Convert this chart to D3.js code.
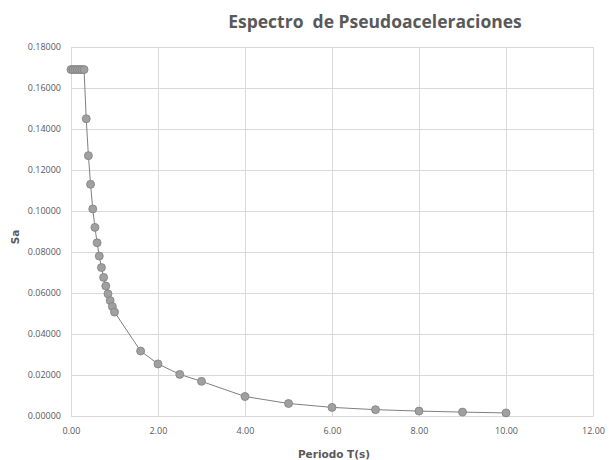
<!DOCTYPE html>
<html><head><meta charset="utf-8">
<script src="https://cdn.jsdelivr.net/npm/d3@7"></script>
<style>
body{margin:0;background:#fff;}
text{font-family:"Open Sans","Liberation Sans",sans-serif;}
</style></head>
<body>
<svg id="c" width="613" height="460"></svg>
<script>
const periods = [0, 0.05, 0.1, 0.15, 0.2, 0.25, 0.3, 0.35, 0.4, 0.45, 0.5, 0.55, 0.6, 0.65, 0.7, 0.75, 0.8, 0.85, 0.9, 0.95, 1.0, 1.6, 2.0, 2.5, 3.0, 4.0, 5.0, 6.0, 7.0, 8.0, 9.0, 10.0];
const sa = [0.169, 0.169, 0.169, 0.169, 0.169, 0.169, 0.169, 0.145, 0.127, 0.113, 0.101, 0.092, 0.0845, 0.078, 0.0724, 0.0676, 0.0634, 0.0596, 0.0563, 0.0534, 0.0507, 0.0317, 0.0254, 0.0203, 0.0169, 0.0095, 0.0061, 0.0042, 0.0031, 0.0024, 0.0019, 0.0015];
const xTicks = [0, 2, 4, 6, 8, 10, 12];
const yTicks = [0, 0.02, 0.04, 0.06, 0.08, 0.10, 0.12, 0.14, 0.16, 0.18];
const titleText = "Espectro  de Pseudoaceleraciones";
const xTitle = "Periodo T(s)";
const yTitle = "Sa";

const svg = d3.select("#c");
const L = 71, R = 593, T = 47, B = 416;
const x = d3.scaleLinear().domain([0, 12]).range([L, R]);
const y = d3.scaleLinear().domain([0, 0.18]).range([B, T]);

const grid = "#d9d9d9";
svg.append("g").selectAll("line").data(yTicks).join("line")
  .attr("x1", L).attr("x2", R).attr("y1", d => y(d)).attr("y2", d => y(d))
  .attr("stroke", grid).attr("stroke-width", 1).attr("shape-rendering", "crispEdges");
svg.append("g").selectAll("line").data(xTicks).join("line")
  .attr("y1", T).attr("y2", B).attr("x1", d => x(d)).attr("x2", d => x(d))
  .attr("stroke", grid).attr("stroke-width", 1).attr("shape-rendering", "crispEdges");

const xAxis = d3.axisBottom(x).tickValues(xTicks).tickFormat(d3.format(".2f")).tickSize(0).tickPadding(12);
const gx = svg.append("g").attr("transform", `translate(0,${B})`).call(xAxis);
gx.select(".domain").attr("stroke", grid);
gx.selectAll("text").attr("fill", "#595959").style("font-size", "9px");

const yAxis = d3.axisLeft(y).tickValues(yTicks).tickFormat(d3.format(".5f")).tickSize(0).tickPadding(10);
const gy = svg.append("g").attr("transform", `translate(${L},0)`).call(yAxis);
gy.select(".domain").attr("stroke", grid);
gy.selectAll("text").attr("fill", "#595959").style("font-size", "9px");

const line = d3.line().x((d, i) => x(periods[i])).y(d => y(d));
svg.append("path").datum(sa).attr("d", line)
  .attr("fill", "none").attr("stroke", "#7f7f7f").attr("stroke-width", 1);

svg.append("g").selectAll("circle").data(sa).join("circle")
  .attr("cx", (d, i) => x(periods[i])).attr("cy", d => y(d)).attr("r", 4)
  .attr("fill", "#a0a0a0").attr("stroke", "#808080").attr("stroke-width", 0.8);

svg.append("text").attr("x", 375).attr("y", 28).attr("text-anchor", "middle")
  .style("font-size", "17.5px").style("font-weight", "bold").style("white-space", "pre")
  .attr("fill", "#595959").text(titleText);
svg.append("text").attr("x", 334).attr("y", 458).attr("text-anchor", "middle")
  .style("font-family", "'DejaVu Sans',sans-serif")
  .style("font-size", "10.5px").style("font-weight", "bold")
  .attr("fill", "#595959").text(xTitle);
svg.append("text").attr("transform", "translate(19,237) rotate(-90)").attr("text-anchor", "middle")
  .style("font-family", "'DejaVu Sans',sans-serif")
  .style("font-size", "10.5px").style("font-weight", "bold")
  .attr("fill", "#595959").text(yTitle);
</script>
</body></html>
